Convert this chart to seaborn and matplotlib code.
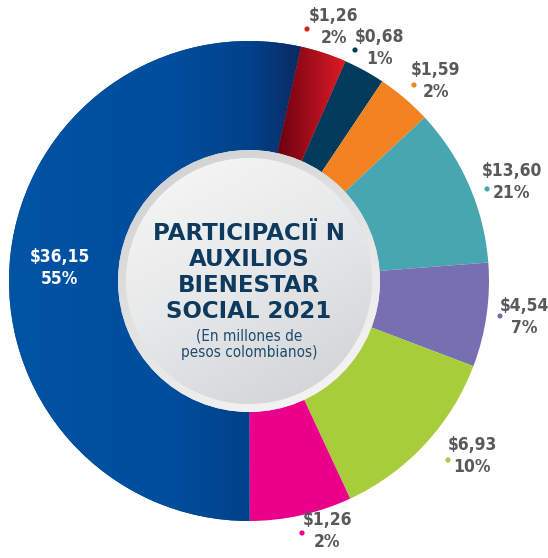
import numpy as np
import matplotlib
matplotlib.use("Agg")
import matplotlib.pyplot as plt
import seaborn as sns
from matplotlib.colors import LinearSegmentedColormap
from matplotlib.patches import Circle

# slices clockwise from the top, starting right after the big blue one
amounts = ["$1,26", "$0,68", "$1,59", "$13,60", "$4,54", "$6,93", "$1,26", "$36,15"]
percents = ["2%", "1%", "2%", "21%", "7%", "10%", "2%", "55%"]
# arc sizes as they are drawn in the picture (they do not follow the printed %)
arc_share = [3.1, 2.8, 3.7, 10.7, 7.0, 12.3, 6.9, 53.5]
colors = ["#d81f26", "#023a5c", "#f38220", "#48a6b0", "#7670b3", "#a7cd3b", "#ea008b", "#0050a0"]
title_lines = ["PARTICIPACIÏ N", "AUXILIOS", "BIENESTAR", "SOCIAL 2021"]
subtitle = ["(En millones de", "pesos colombianos)"]

# layout in pixels (from top-left of the image)
W, H = 548, 558
CX, CY, R = 249, 281, 240
RING, DISC = 131, 123
label_xy = [(334, 16), (379, 37), (436, 70), (512, 171), (524, 306), (472, 445), (327, 520), (60, 257)]
dot_xy = [(307, 29), (355, 50), (414, 85), (487, 189), (500, 316), (448, 460), (302, 533), None]

sns.set_theme(style="white")
plt.rcParams["font.family"] = ["DejaVu Sans"]
narrow = ["Liberation Sans Narrow", "DejaVu Sans Condensed", "DejaVu Sans"]


def py(y):
    return H - y


fig = plt.figure(figsize=(W / 100, H / 100), dpi=100)
ax = fig.add_axes([0, 0, 1, 1])

wedges, _ = ax.pie(arc_share, colors=colors, startangle=77.5, counterclock=False,
                   center=(CX, py(CY)), radius=R,
                   wedgeprops=dict(width=R - RING + 4, linewidth=0))


def grad_fill(patch, stops, extent, mode, z):
    n = 256
    X, Y = np.meshgrid(np.linspace(0, 1, n), np.linspace(0, 1, n))
    if mode == "h":
        g = X
    else:
        g = (0.35 * X + 0.65 * Y)
    cmap = LinearSegmentedColormap.from_list("g", stops)
    im = ax.imshow(g, cmap=cmap, extent=extent, origin="upper",
                   aspect="auto", zorder=z, interpolation="bilinear")
    im.set_clip_path(patch)


# blue: darkens towards its right edge, red: dark to bright
grad_fill(wedges[7], [(0, "#0153a4"), (0.55, "#004e9d"), (0.82, "#00428a"), (1, "#0b2a62")],
          [8, 302, py(522), py(40)], "h", 2)
grad_fill(wedges[0], [(0, "#6a0010"), (1, "#e31c26")],
          [276, 348, py(160), py(40)], "h", 2)

# centre disc with a bevelled ring
ring = Circle((CX, py(CY)), RING, facecolor="#e0e1e3", linewidth=0, zorder=3)
ax.add_patch(ring)
grad_fill(ring, ["#cdcecf", "#f9f9f9"],
          [CX - RING, CX + RING, py(CY + RING), py(CY - RING)], "d", 4)
disc = Circle((CX, py(CY)), DISC, facecolor="#e4e5e6", linewidth=0, zorder=5)
ax.add_patch(disc)
grad_fill(disc, [(0, "#f8f8f8"), (0.5, "#e6e7e8"), (1, "#cfd0d2")],
          [CX - DISC, CX + DISC, py(CY + DISC), py(CY - DISC)], "d", 6)

# title
for i, line in enumerate(title_lines):
    ax.text(CX, py(234 + 26 * i), line, ha="center", va="center", fontsize=16.5,
            fontweight="bold", color="#0d3a5e", zorder=8)
for i, line in enumerate(subtitle):
    ax.text(CX, py(336 + 17 * i), line, ha="center", va="center", fontsize=11,
            family=narrow, fontstretch="condensed", color="#1f4a70", zorder=8)

# value labels
for i, (amt, pct) in enumerate(zip(amounts, percents)):
    x, y = label_xy[i]
    tc = "white" if dot_xy[i] is None else "#58595b"
    for txt, yy in ((amt, y), (pct, y + 22)):
        ax.text(x, py(yy), txt, ha="center", va="center", fontsize=12.5, fontweight="bold",
                family=narrow, fontstretch="condensed", color=tc, zorder=8)
    if dot_xy[i] is not None:
        dx, dy = dot_xy[i]
        ax.add_patch(Circle((dx, py(dy)), 2.6, color=colors[i], linewidth=0, zorder=8))

ax.set_xlim(0, W)
ax.set_ylim(0, H)
ax.set_aspect("auto")
ax.axis("off")

fig.savefig("out.png", dpi=100, facecolor="white")
